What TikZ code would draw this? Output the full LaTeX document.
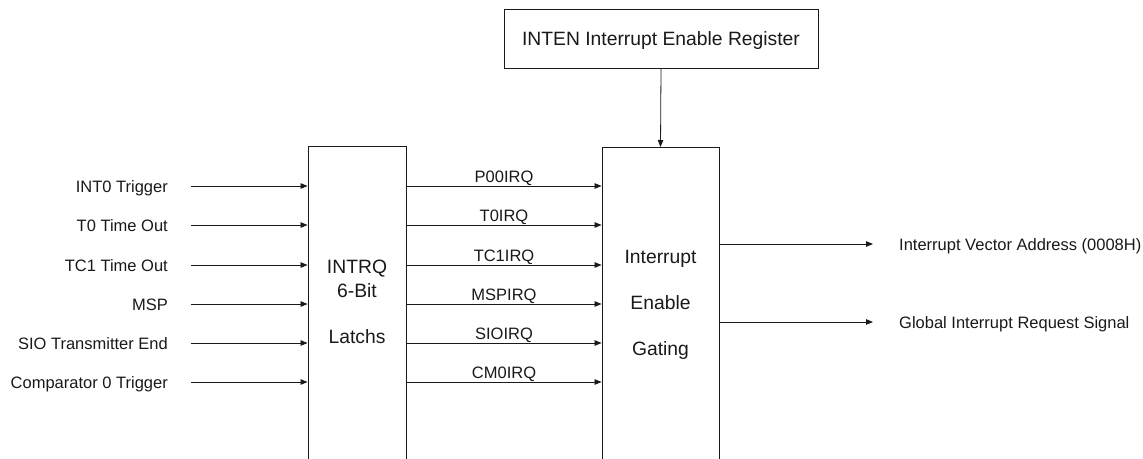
\documentclass[tikz,border=0pt]{standalone}
\usepackage{fontspec}
\setmainfont{Liberation Sans}
\usetikzlibrary{arrows.meta}
\begin{document}
\begin{tikzpicture}[x=1pt,y=-1pt,
  box/.style={draw=black!90, line width=0.9pt, inner sep=0pt},
  lbl/.style={font=\fontsize{16.5}{20}\selectfont, inner sep=0pt, text=black!90},
  btxt/.style={font=\fontsize{19.3}{23}\selectfont, inner sep=0pt, text=black!90},
  arr/.style={draw=black!90, line width=0.8pt, -{Triangle[length=7pt,width=5.5pt]}}]
\clip (0,0) rectangle (1143,458);
% boxes
\node[box, minimum width=98pt, minimum height=330pt, anchor=north] (latch) at (357,146) {};
\node[box, minimum width=117pt, minimum height=330pt, anchor=north] (gate) at (660.5,147) {};
\node[box, minimum width=314pt, minimum height=59pt, anchor=north] (inten) at (661,9) {};
% box texts
\node[btxt, anchor=base] (intenT) at (661,45) {INTEN Interrupt Enable Register};
\node[btxt, anchor=base] (latchA) at (357,273) {INTRQ};
\node[btxt, anchor=base] (latchB) at (357,297) {6-Bit};
\node[btxt, anchor=base] (latchC) at (357,343) {Latchs};
\node[btxt, anchor=base] (gateA) at (660.5,263) {Interrupt};
\node[btxt, anchor=base] (gateB) at (660.5,309) {Enable};
\node[btxt, anchor=base] (gateC) at (660.5,355) {Gating};
% enable register arrow
\draw[arr] (inten.south) -- (gate.north);
% inputs
\foreach \y/\t [count=\i] in {186/INT0 Trigger, 225/T0 Time Out, 265/TC1 Time Out, 304/MSP, 343/SIO Transmitter End, 382/Comparator 0 Trigger}{
  \node[lbl, anchor=base east] (in\i) at (168,\y+6) {\t};
  \coordinate (s\i) at (191,\y);
  \draw[arr] (s\i) -- (s\i -| latch.west);
}
% latch to gating
\foreach \y/\t [count=\i] in {186/P00IRQ, 225/T0IRQ, 265/TC1IRQ, 304/MSPIRQ, 343/SIOIRQ, 382/CM0IRQ}{
  \coordinate (m\i) at (latch.east |- 0,\y);
  \draw[arr] (m\i) -- (m\i -| gate.west);
  \node[lbl, anchor=base] (irq\i) at (504,\y-4) {\t};
}
% outputs
\coordinate (o1) at (gate.east |- 0,244);
\coordinate (e1) at (873,244);
\draw[arr] (o1) -- (e1);
\node[lbl, anchor=base west] (out1) at (899,250) {Interrupt Vector Address (0008H)};
\coordinate (o2) at (gate.east |- 0,322);
\coordinate (e2) at (873,322);
\draw[arr] (o2) -- (e2);
\node[lbl, anchor=base west] (out2) at (899,328) {Global Interrupt Request Signal};
\end{tikzpicture}
\end{document}
